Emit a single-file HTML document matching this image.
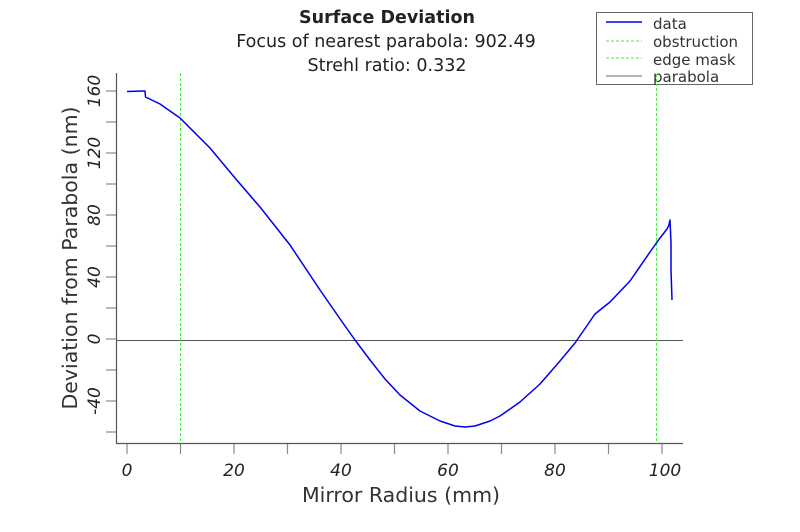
<!DOCTYPE html>
<html><head><meta charset="utf-8"><style>
html,body{margin:0;padding:0;background:#fff;}
svg{display:block;font-family:"DejaVu Sans","Liberation Sans",sans-serif;}
</style></head><body>
<svg width="800" height="532" viewBox="0 0 800 532">
<rect width="800" height="532" fill="#fff"/>
<text x="387" y="23" text-anchor="middle" font-size="17.5" font-weight="bold" fill="#222">Surface Deviation</text>
<text x="386" y="47" text-anchor="middle" font-size="17.5" fill="#222">Focus of nearest parabola: 902.49</text>
<text x="387" y="71" text-anchor="middle" font-size="17.5" fill="#222">Strehl ratio: 0.332</text>
<g stroke="#555" stroke-width="1.2" fill="none">
<line x1="116.5" y1="73" x2="116.5" y2="443.5"/>
<line x1="116" y1="443.5" x2="683" y2="443.5"/>
</g>
<g stroke="#888" stroke-width="1.2">
<line x1="106" y1="91" x2="116" y2="91"/><line x1="106" y1="122" x2="116" y2="122"/>
<line x1="106" y1="153" x2="116" y2="153"/><line x1="106" y1="184" x2="116" y2="184"/>
<line x1="106" y1="215" x2="116" y2="215"/><line x1="106" y1="246" x2="116" y2="246"/>
<line x1="106" y1="277" x2="116" y2="277"/><line x1="106" y1="308" x2="116" y2="308"/>
<line x1="106" y1="339" x2="116" y2="339"/><line x1="106" y1="370" x2="116" y2="370"/>
<line x1="106" y1="401" x2="116" y2="401"/><line x1="106" y1="432" x2="116" y2="432"/>
<line x1="127" y1="444" x2="127" y2="454"/><line x1="180.5" y1="444" x2="180.5" y2="454"/>
<line x1="234" y1="444" x2="234" y2="454"/><line x1="287.5" y1="444" x2="287.5" y2="454"/>
<line x1="341" y1="444" x2="341" y2="454"/><line x1="394.5" y1="444" x2="394.5" y2="454"/>
<line x1="448" y1="444" x2="448" y2="454"/><line x1="501.5" y1="444" x2="501.5" y2="454"/>
<line x1="555" y1="444" x2="555" y2="454"/><line x1="608.5" y1="444" x2="608.5" y2="454"/>
<line x1="662" y1="444" x2="662" y2="454"/>
</g>
<g font-size="17" font-style="italic" fill="#222" text-anchor="middle">
<text x="127" y="476">0</text><text x="234" y="476">20</text><text x="341" y="476">40</text>
<text x="448" y="476">60</text><text x="555" y="476">80</text><text x="665" y="476">100</text>
</g>
<g font-size="17" font-style="italic" fill="#222" text-anchor="middle">
<text transform="translate(100,91) rotate(-90)">160</text>
<text transform="translate(100,153) rotate(-90)">120</text>
<text transform="translate(100,215) rotate(-90)">80</text>
<text transform="translate(100,277) rotate(-90)">40</text>
<text transform="translate(100,339) rotate(-90)">0</text>
<text transform="translate(100,401) rotate(-90)">-40</text>
</g>
<text x="401" y="502" text-anchor="middle" font-size="20.5" fill="#333">Mirror Radius (mm)</text>
<text transform="translate(77,258) rotate(-90)" text-anchor="middle" font-size="20.5" fill="#333">Deviation from Parabola (nm)</text>
<line x1="116" y1="340.5" x2="683" y2="340.5" stroke="#555" stroke-width="1"/>
<line x1="180.5" y1="73" x2="180.5" y2="443" stroke="#44ee44" stroke-width="1" stroke-dasharray="3,2"/>
<line x1="656.5" y1="73" x2="656.5" y2="443" stroke="#44ee44" stroke-width="1" stroke-dasharray="3,2"/>
<polyline fill="none" stroke="#0000ee" stroke-width="1.5" stroke-linejoin="round" points="127,91.5 144,91 145,91 145.5,97 160,104 180,118 210,148 235,178 260,207 290,245 320,290 345,326 355,340 370,360 385,379 400,395 420,411 440,421 455,426 465,427 475,426 490,421 500,416 520,402 540,384 560,361 575,343 595,314 610,302 630,281 650,252 660,238 667,229 669,225 670,220 671,243 671,270 672,300"/>
<rect x="596.5" y="12.5" width="156" height="72" fill="#fff" stroke="#666" stroke-width="1"/>
<line x1="606" y1="22" x2="642" y2="22" stroke="#0000ee" stroke-width="1.5"/>
<line x1="606" y1="41" x2="642" y2="41" stroke="#44ee44" stroke-dasharray="3,2"/>
<line x1="606" y1="58" x2="642" y2="58" stroke="#44ee44" stroke-dasharray="3,2"/>
<line x1="606" y1="76" x2="642" y2="76" stroke="#888" stroke-width="1.2"/>
<g font-size="15" fill="#333">
<text x="653" y="29">data</text><text x="653" y="47">obstruction</text>
<text x="653" y="65">edge mask</text><text x="653" y="82">parabola</text>
</g>
<line x1="656.5" y1="74" x2="656.5" y2="85" stroke="#44ee44" stroke-dasharray="3,2"/>
</svg>
</body></html>
